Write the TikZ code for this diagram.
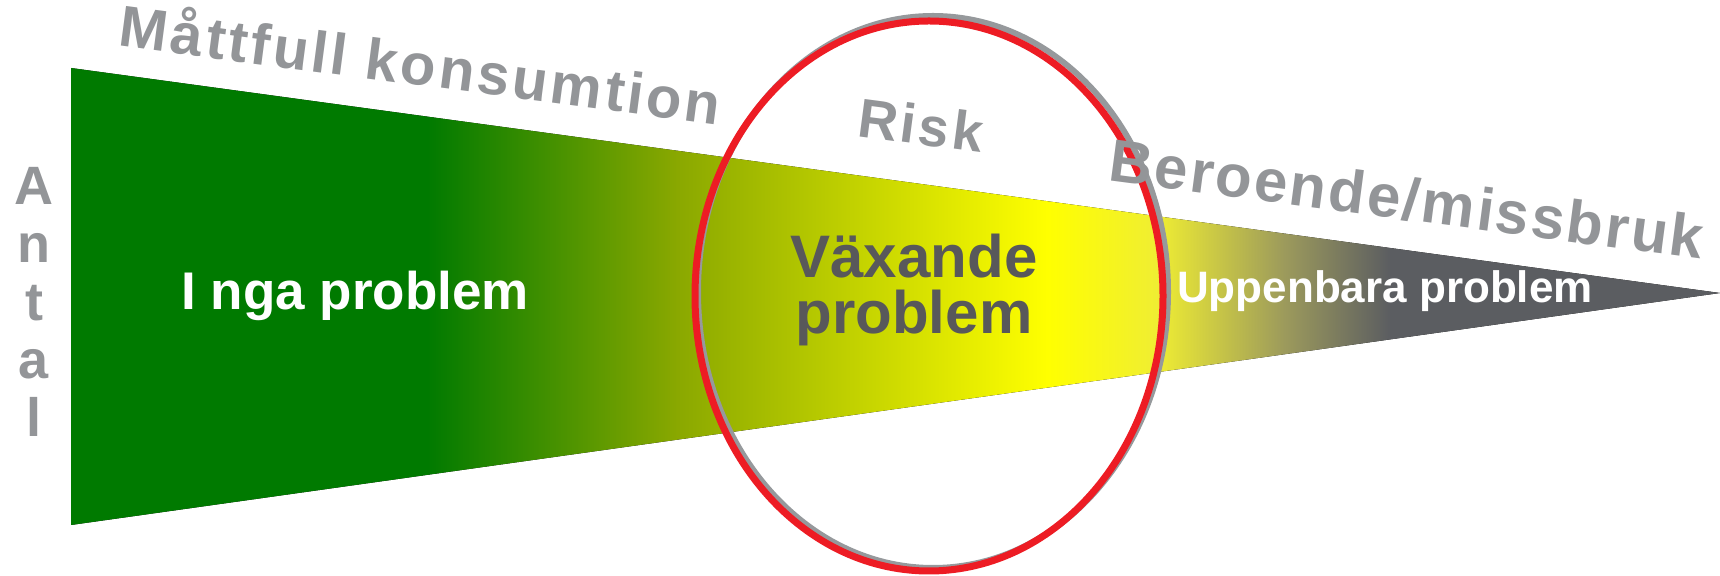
\documentclass[tikz,border=0pt]{standalone}
\usepackage{fontspec}
\setmainfont{Liberation Sans}
\newfontfamily\widefont[LetterSpace=5.5]{Liberation Sans}
\newfontfamily\semiwidefont[LetterSpace=4]{Liberation Sans}
\usepackage{xcolor}
\usepackage{tikz}
\usetikzlibrary{calc, positioning}

\definecolor{wgreen}{RGB}{0,122,0}
\definecolor{wolive}{RGB}{138,168,0}
\definecolor{wyellow}{RGB}{255,255,0}
\definecolor{wpale}{RGB}{240,238,50}
\definecolor{wkhaki}{RGB}{156,154,92}
\definecolor{wgray}{RGB}{91,93,97}
\definecolor{txtgray}{RGB}{147,149,152}
\definecolor{darktxt}{RGB}{88,88,90}
\definecolor{ringred}{RGB}{237,28,36}
\definecolor{ringgray}{RGB}{150,153,156}

\pgfdeclarehorizontalshading{wedgeshade}{100bp}{color(0bp)=(wgreen); color(35.8bp)=(wgreen); color(43.4bp)=(wolive); color(54.6bp)=(wyellow); color(57.9bp)=(wpale); color(61.8bp)=(wkhaki); color(65bp)=(wgray); color(100bp)=(wgray)}

\begin{document}
\begin{tikzpicture}[
    x=0.5pt, y=-0.5pt,
    headtext/.style={text=txtgray, font=\widefont\bfseries\fontsize{#1}{#1}\selectfont, inner sep=0pt},
    headtext/.default=29pt,
    zonetext/.style={font=\bfseries\fontsize{#1}{#1}\selectfont, inner sep=0pt, align=center},
    zonetext/.default=26pt,
    ringline/.style={draw=ringred, line width=3.5pt},
    ringshade/.style={draw=ringgray, line width=3pt}
]
\useasboundingbox (0,0) rectangle (1720,576);

% === WEDGE ===
\coordinate (wedgetop) at (71,68);
\coordinate (wedgetip) at (1720,293);
\coordinate (wedgebot) at (71,525);
\fill[shading=wedgeshade] (wedgetop) -- (wedgetip) -- (wedgebot) -- cycle;

% === RING ===
\coordinate (ringc) at (929,296);
\draw[ringshade] ($(ringc)+(4,-4)$) ellipse [x radius=235, y radius=276];
\draw[ringline] (ringc) ellipse [x radius=234, y radius=275];

% === ZONE TEXTS ===
\node[zonetext=26.5pt, text=white] (noproblem) at (355,296) {I nga problem};
\node[zonetext=30pt, text=darktxt] (growing) at (914,290) {Växande\\[-2pt]problem};
\node[zonetext=22pt, text=white] (obvious) at (1385,291) {Uppenbara problem};

% === HEADINGS ===
\node[headtext=29pt, rotate=-7.5] (moderate) at (421,62) {Måttfull konsumtion};
\node[headtext=27.5pt, rotate=-7.5] (risk) at (921,125) {Risk};
\node[headtext=30pt, rotate=-7.5, font=\semiwidefont\bfseries\fontsize{30pt}{30pt}\selectfont] (addiction) at (1407,199) {Beroende/missbruk};
\node[headtext=27pt, align=center, font=\bfseries\fontsize{27pt}{29pt}\selectfont] (antal) at (34,302) {A\\n\\t\\a\\l};

\end{tikzpicture}
\end{document}
